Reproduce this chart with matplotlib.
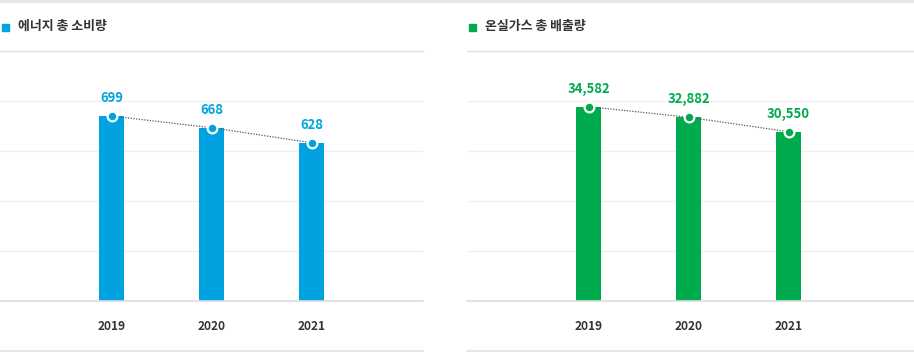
import numpy as np
import matplotlib
matplotlib.use("Agg")
import matplotlib.pyplot as plt
from matplotlib.lines import Line2D
from matplotlib.patches import Rectangle
from matplotlib.ticker import LinearLocator

plt.rcParams['font.family'] = ['Noto Sans CJK KR', 'DejaVu Sans']

years = ['2019', '2020', '2021']
energy = [699, 668, 628]
ghg = [34582, 32882, 30550]
titles = ['에너지 총 소비량', '온실가스 총 배출량']

W, H = 914, 352
fig = plt.figure(figsize=(W / 100, H / 100), dpi=100)

def px(x, y):
    return x / W, 1 - y / H

def hline(x0, x1, y, color, lw):
    a, b = px(x0, y)
    c, _ = px(x1, y)
    fig.add_artist(Line2D([a, c], [b, b], color=color, lw=lw, transform=fig.transFigure))

# top border
hline(0, W, 1, '#e6e6e6', 2.2)

panels = [
    dict(x0=0, x1=423, ctr=111.5, vals=energy, color='#00a3e0', ylim=(207, 872), title=titles[0], fmt='{:d}'),
    dict(x0=467, x1=914, ctr=588.5, vals=ghg, color='#00ab4e', ylim=(3243, 43566), title=titles[1], fmt='{:,d}'),
]

for p in panels:
    x0, x1 = p['x0'], p['x1']
    l, b = px(x0, 301)
    ax = fig.add_axes([l, b, (x1 - x0) / W, 250 / H])
    xs = np.arange(len(years))
    off = (p['ctr'] - x0) / 100
    ax.set_xlim(-off, (x1 - x0) / 100 - off)
    ax.set_ylim(*p['ylim'])
    ax.bar(xs, p['vals'], width=0.25, color=p['color'], zorder=2)
    ax.plot(xs, p['vals'], ls=(0, (1, 1.2)), color='#555555', lw=0.9, zorder=3)
    ax.plot(xs, p['vals'], 'o', ms=7, mfc=p['color'], mec='white', mew=1.6, zorder=4)
    for x, v in zip(xs, p['vals']):
        ax.annotate(p['fmt'].format(v), (x, v), xytext=(0, 8), textcoords='offset points',
                    ha='center', va='bottom', color=p['color'], fontsize=9.4, fontweight='bold')
    ax.yaxis.set_major_locator(LinearLocator(6))
    ax.grid(axis='y', color='#efefef', lw=0.9, zorder=0)
    ax.set_yticklabels([])
    ax.tick_params(axis='y', length=0)
    ax.set_xticks(xs)
    ax.set_xticklabels(years, fontsize=8.6, fontweight='bold', color='#333333')
    ax.tick_params(axis='x', length=0, pad=14)
    for s in ['top', 'left', 'right']:
        ax.spines[s].set_visible(False)
    ax.spines['bottom'].set_color('#dddddd')
    ax.spines['bottom'].set_linewidth(1.2)
    ax.patch.set_alpha(0)

    # title row
    hline(x0, x1, 51, '#e2e2e2', 1.0)
    hline(x0, x1, 351, '#e2e2e2', 1.2)
    rl, rb = px(x0 + 2, 31)
    fig.add_artist(Rectangle((rl, rb), 7 / W, 7 / H, color=p['color'], transform=fig.transFigure))
    tl, tb = px(x0 + 18, 26)
    fig.text(tl, tb, p['title'], ha='left', va='center', fontsize=9.3, fontweight='bold', color='#333333')

fig.savefig('out.png', dpi=100)
